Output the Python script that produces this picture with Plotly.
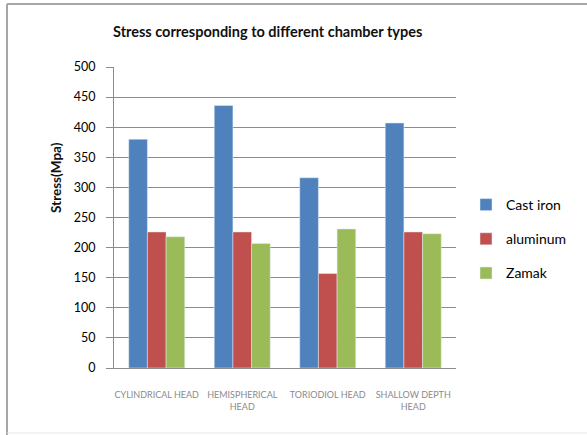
import plotly.graph_objects as go

categories = ["CYLINDRICAL HEAD", "HEMISPHERICAL<br>HEAD", "TORIODIOL HEAD", "SHALLOW DEPTH<br>HEAD"]
cast_iron = [380, 436, 316, 407]
aluminum = [226, 226, 157, 226]
zamak = [218, 207, 231, 223]
y_ticks = [0, 50, 100, 150, 200, 250, 300, 350, 400, 450, 500]

W, H = 587, 435
L, R, T, B = 114, 456, 67, 368

def px(x):
    return (x - L) / (R - L)

def py(y):
    return (B - y) / (B - T)

fig = go.Figure()
fig.add_trace(go.Bar(name="Cast iron", x=categories, y=cast_iron, marker_color="#4F81BD", legendgroup="a"))
fig.add_trace(go.Bar(name="aluminum", x=categories, y=aluminum, marker_color="#C0504D", legendgroup="b"))
fig.add_trace(go.Bar(name="Zamak", x=categories, y=zamak, marker_color="#9BBB59", legendgroup="c"))

grid = "#8C8C8C"
fig.update_layout(
    width=W, height=H,
    margin=dict(l=L, r=W - R, t=T, b=H - B),
    paper_bgcolor="white", plot_bgcolor="white",
    barmode="group", bargap=0.345, bargroupgap=0,
    font=dict(family="Lato, 'Liberation Sans', sans-serif", color="#000000"),
    showlegend=True,
    legend=dict(x=px(466), y=py(189), xanchor="left", yanchor="top",
                font=dict(size=14, color="#000000"), tracegroupgap=13,
                itemwidth=30, bgcolor="rgba(0,0,0,0)"),
    xaxis=dict(showgrid=False, showline=True, linecolor=grid, linewidth=1,
               ticks="", tickfont=dict(size=9, color="#8A8A8A"),
               ticklabelstandoff=18, zeroline=False),
    yaxis=dict(range=[0, 500], tickvals=y_ticks, showgrid=True, gridcolor=grid, gridwidth=1,
               showline=True, linecolor=grid, linewidth=1, ticks="outside", ticklen=7,
               tickcolor=grid, tickfont=dict(size=12.5, color="#000000"),
               ticklabelstandoff=8, zeroline=False),
    annotations=[
        dict(text="<b>Stress corresponding to different chamber types</b>", x=px(267), y=py(31),
             xref="paper", yref="paper", showarrow=False, xanchor="center", yanchor="middle",
             font=dict(size=14.5, color="#111111")),
        dict(text="<b>Stress(Mpa)</b>", x=px(56), y=py(178), xref="paper", yref="paper",
             showarrow=False, textangle=-90, xanchor="center", yanchor="middle",
             font=dict(size=13.5, color="#111111")),
    ],
    shapes=[
        dict(type="line", xref="paper", yref="paper", x0=px(7), x1=px(600), y0=py(4), y1=py(4),
             line=dict(color="#A6A6A6", width=2)),
        dict(type="line", xref="paper", yref="paper", x0=px(7), x1=px(7), y0=py(4), y1=py(440),
             line=dict(color="#A6A6A6", width=2)),
        dict(type="line", xref="paper", yref="paper", x0=px(7), x1=px(600), y0=py(433), y1=py(433),
             line=dict(color="#E6E6E6", width=1)),
    ],
)

fig.write_html("out.html")
